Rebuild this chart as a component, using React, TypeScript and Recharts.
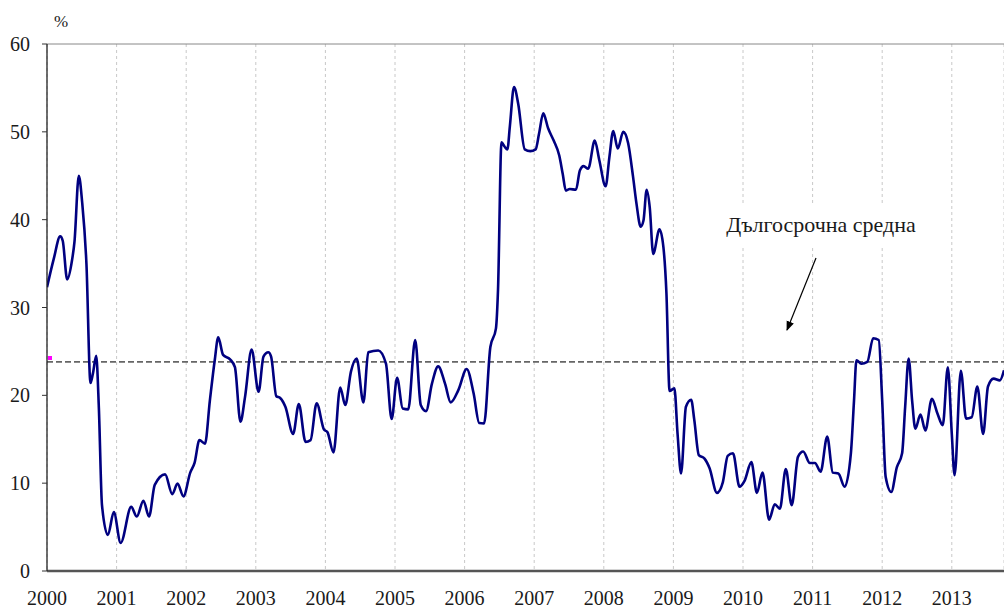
import React from "react";
import { LineChart, Line, XAxis, YAxis, CartesianGrid, ReferenceLine, ReferenceDot } from "recharts";

const years: number[] = [
  2000.000, 2000.096, 2000.190, 2000.226, 2000.290, 2000.360, 2000.395, 2000.457, 2000.505, 2000.567,
  2000.625, 2000.660, 2000.707, 2000.745, 2000.790, 2000.875, 2000.960, 2001.058, 2001.210, 2001.290,
  2001.385, 2001.466, 2001.548, 2001.697, 2001.800, 2001.875, 2001.960, 2002.058, 2002.120, 2002.190,
  2002.270, 2002.340, 2002.410, 2002.460, 2002.530, 2002.630, 2002.700, 2002.780, 2002.845, 2002.940,
  2003.040, 2003.110, 2003.180, 2003.220, 2003.295, 2003.350, 2003.425, 2003.536, 2003.618, 2003.715,
  2003.787, 2003.874, 2003.980, 2004.030, 2004.116, 2004.213, 2004.285, 2004.367, 2004.449, 2004.546,
  2004.616, 2004.760, 2004.870, 2004.952, 2005.030, 2005.110, 2005.190, 2005.290, 2005.370, 2005.446,
  2005.530, 2005.620, 2005.720, 2005.800, 2005.910, 2006.030, 2006.130, 2006.210, 2006.280, 2006.370,
  2006.450, 2006.480, 2006.530, 2006.576, 2006.615, 2006.650, 2006.710, 2006.770, 2006.864, 2006.945,
  2007.020, 2007.070, 2007.130, 2007.200, 2007.280, 2007.360, 2007.410, 2007.455, 2007.510, 2007.600,
  2007.656, 2007.710, 2007.776, 2007.870, 2007.935, 2008.026, 2008.080, 2008.136, 2008.200, 2008.280,
  2008.350, 2008.420, 2008.470, 2008.530, 2008.570, 2008.616, 2008.660, 2008.710, 2008.800, 2008.856,
  2008.900, 2008.945, 2009.014, 2009.060, 2009.110, 2009.180, 2009.255, 2009.300, 2009.365, 2009.447,
  2009.520, 2009.625, 2009.710, 2009.780, 2009.856, 2009.950, 2010.024, 2010.120, 2010.200, 2010.280,
  2010.375, 2010.457, 2010.530, 2010.615, 2010.700, 2010.790, 2010.865, 2010.960, 2011.034, 2011.115,
  2011.210, 2011.290, 2011.370, 2011.460, 2011.550, 2011.595, 2011.630, 2011.700, 2011.786, 2011.870,
  2011.950, 2012.000, 2012.050, 2012.130, 2012.210, 2012.286, 2012.330, 2012.380, 2012.430, 2012.476,
  2012.550, 2012.620, 2012.714, 2012.795, 2012.870, 2012.943, 2013.000, 2013.040, 2013.130, 2013.205,
  2013.286, 2013.367, 2013.450, 2013.520, 2013.600, 2013.690, 2013.750,
];

const values: number[] = [
  32.3, 35.5, 38.1, 37.6, 33.2, 35.4, 37.5, 45.0, 42.0, 34.9,
  21.4, 22.5, 24.5, 18.6, 7.5, 4.1, 6.7, 3.2, 7.3, 6.2,
  8.0, 6.2, 9.8, 11.0, 8.75, 9.95, 8.5, 11.2, 12.3, 14.9,
  14.5, 19.4, 24.0, 26.6, 24.6, 24.1, 23.2, 17.0, 19.8, 25.2,
  20.4, 24.4, 24.9, 24.4, 19.9, 19.7, 18.7, 15.6, 19.0, 14.7,
  14.9, 19.1, 16.1, 15.8, 13.5, 20.9, 18.9, 22.7, 24.2, 19.2,
  24.9, 25.1, 23.6, 17.3, 22.0, 18.5, 18.4, 26.3, 18.9, 18.2,
  21.3, 23.3, 21.3, 19.2, 20.6, 23.0, 20.2, 16.85, 16.8, 25.5,
  27.6, 32.0, 48.8, 48.3, 48.0, 50.6, 55.1, 53.2, 48.0, 47.8,
  48.0, 49.8, 52.1, 50.4, 49.0, 47.3, 45.2, 43.3, 43.5, 43.4,
  45.6, 46.1, 45.8, 49.0, 46.8, 43.8, 47.1, 50.1, 48.1, 50.0,
  48.7, 44.9, 41.8, 39.2, 39.9, 43.4, 41.4, 36.1, 38.9, 36.9,
  31.6, 20.5, 20.8, 15.6, 11.1, 18.7, 19.5, 17.2, 13.2, 12.8,
  11.7, 8.9, 10.1, 13.1, 13.4, 9.6, 10.3, 12.4, 8.9, 11.2,
  5.85, 7.6, 7.1, 11.6, 7.5, 13.0, 13.6, 12.3, 12.3, 11.3,
  15.3, 11.2, 11.1, 9.6, 13.4, 19.4, 24.0, 23.6, 23.8, 26.5,
  26.3, 19.4, 10.7, 9.0, 11.8, 13.4, 18.7, 24.2, 19.4, 16.2,
  17.8, 16.0, 19.6, 17.9, 16.6, 23.2, 15.6, 10.9, 22.8, 17.35,
  17.5, 21.0, 15.6, 21.0, 21.9, 21.7, 22.85,
];

const xTicks: number[] = [2000, 2001, 2002, 2003, 2004, 2005, 2006, 2007, 2008, 2009, 2010, 2011, 2012, 2013];
const yTicks: number[] = [0, 10, 20, 30, 40, 50, 60];
const longTermMean = 23.8;
const meanMarker = 24.25;

const data = years.map((x, i) => ({ x, v: values[i] }));

const FONT = "Liberation Serif, Times New Roman, DejaVu Serif, serif";

const XTick = (props: any) => {
  const { x, payload } = props;
  return (
    <text x={x} y={605} textAnchor="middle" style={{ fontFamily: FONT, fontSize: 20 }} fill="#1a1a1a">
      {payload.value}
    </text>
  );
};

const YTick = (props: any) => {
  const { y, payload } = props;
  return (
    <text x={30} y={y} dy="0.35em" textAnchor="end" style={{ fontFamily: FONT, fontSize: 20 }} fill="#1a1a1a">
      {payload.value}
    </text>
  );
};

export default function App() {
  return (
    <div style={{ position: "relative", width: 1004, height: 609, background: "#fff", fontFamily: FONT }}>
      <style>{"body{margin:0;overflow:hidden;background:#fff}"}</style>
      <LineChart
        width={1004}
        height={609}
        data={data}
        margin={{ top: 44, right: 0, bottom: 0, left: 0 }}
      >
        <CartesianGrid horizontal={false} vertical={true} stroke="#c8c8c8" strokeDasharray="3 3" />
        <XAxis
          dataKey="x"
          type="number"
          domain={[2000, 2013.75]}
          ticks={xTicks}
          tick={<XTick />}
          tickLine={false}
          axisLine={{ stroke: "#555", strokeWidth: 2.5 }}
          height={38}
          allowDataOverflow
        />
        <YAxis
          type="number"
          domain={[0, 60]}
          ticks={yTicks}
          tick={<YTick />}
          tickLine={{ stroke: "#333" }}
          tickSize={5}
          axisLine={{ stroke: "#222", strokeWidth: 1.3 }}
          width={47}
        />
        <ReferenceLine y={60} stroke="#888" strokeWidth={1} />
        <ReferenceLine y={longTermMean} stroke="#666" strokeWidth={1.8} strokeDasharray="6 3" />
        <ReferenceDot
          x={2000}
          y={meanMarker}
          r={2}
          shape={(p: any) => <rect x={p.cx + 1} y={p.cy - 2} width={4} height={4} fill="#ff00ff" />}
        />
        <Line
          type="monotone"
          dataKey="v"
          stroke="#000080"
          strokeWidth={2.6}
          dot={false}
          isAnimationActive={false}
        />
      </LineChart>
      <svg
        width={1004}
        height={609}
        style={{ position: "absolute", left: 0, top: 0, pointerEvents: "none" }}
      >
        <defs>
          <marker id="arrowHead" viewBox="0 0 10 10" refX="9" refY="5" markerWidth="8" markerHeight="8" orient="auto">
            <path d="M0,1 L10,5 L0,9 z" fill="#000" />
          </marker>
        </defs>
        <text x={61} y={27} textAnchor="middle" style={{ fontFamily: FONT, fontSize: 17 }} fill="#1a1a1a">%</text>
        <rect x={712} y={205} width={218} height={43} fill="#fff" />
        <text x={821} y={232} textAnchor="middle" style={{ fontFamily: FONT, fontSize: 22 }} fill="#1a1a1a">
          Дългосрочна средна
        </text>
        <line x1={816} y1={258} x2={787} y2={330} stroke="#000" strokeWidth={1.2} markerEnd="url(#arrowHead)" />
      </svg>
    </div>
  );
}
